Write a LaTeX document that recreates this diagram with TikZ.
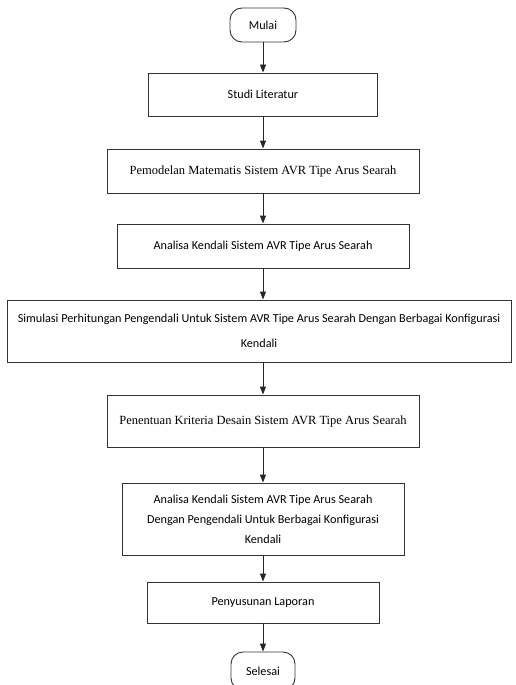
\documentclass[tikz,border=0pt]{standalone}
\usepackage{fontspec}
\setmainfont{Carlito}
\newfontfamily\tnr{Liberation Serif}
\usetikzlibrary{arrows.meta}
\begin{document}
\begin{tikzpicture}[x=1pt,y=-1pt,
  box/.style={draw=black!80, line width=0.9pt, fill=white, align=center, inner sep=0pt, font=\fontsize{12.2}{20}\selectfont},
  serifbox/.style={box, font=\tnr\fontsize{12.5}{14}\selectfont},
  term/.style={box, rounded corners=12pt},
  arr/.style={-{Triangle[length=8pt,width=6pt]}, line width=0.9pt, draw=black!85}]
\useasboundingbox (0,0) rectangle (515,685);
\clip (0,0) rectangle (515,685);
\node[term, minimum width=66pt, minimum height=34pt] (mulai) at (263,25) {Mulai};
\node[box, minimum width=229pt, minimum height=43pt] (studi) at (263,94.5) {Studi Literatur};
\node[serifbox, minimum width=312pt, minimum height=44pt] (pemodelan) at (263,171) {Pemodelan Matematis Sistem AVR Tipe Arus Searah};
\node[box, minimum width=292pt, minimum height=44pt] (analisa) at (263,246) {Analisa Kendali Sistem AVR Tipe Arus Searah};
\node[box, font=\fontsize{12.2}{25}\selectfont, minimum width=504pt, minimum height=62pt] (simulasi) at (259,331) {Simulasi Perhitungan Pengendali Untuk Sistem AVR Tipe Arus Searah Dengan Berbagai Konfigurasi\\Kendali};
\node[serifbox, minimum width=312pt, minimum height=52pt] (penentuan) at (263,421) {Penentuan Kriteria Desain Sistem AVR Tipe Arus Searah};
\node[box, minimum width=282pt, minimum height=72pt] (analisa2) at (263,519) {Analisa Kendali Sistem AVR Tipe Arus Searah\\Dengan Pengendali Untuk Berbagai Konfigurasi\\Kendali};
\node[box, minimum width=232pt, minimum height=41pt] (penyusunan) at (263,602.5) {Penyusunan Laporan};
\node[term, minimum width=64pt, minimum height=38pt] (selesai) at (263,671) {Selesai};
\draw[arr] (mulai) -- (studi);
\draw[arr] (studi) -- (pemodelan);
\draw[arr] (pemodelan) -- (analisa);
\draw[arr] (analisa.south) -- (analisa.south |- simulasi.north);
\draw[arr] (simulasi.south -| penentuan.north) -- (penentuan.north);
\draw[arr] (penentuan) -- (analisa2);
\draw[arr] (analisa2) -- (penyusunan);
\draw[arr] (penyusunan) -- (selesai);
\end{tikzpicture}
\end{document}
